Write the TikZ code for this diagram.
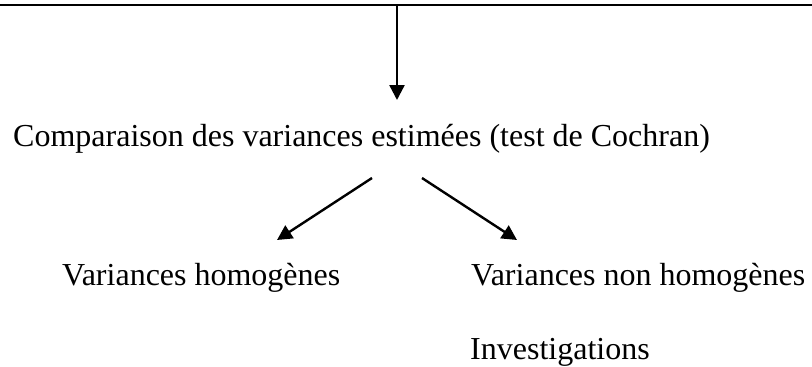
\documentclass[tikz,border=0pt]{standalone}
\usepackage{fontspec}
\setmainfont{Liberation Serif}
\usetikzlibrary{arrows.meta,positioning}

\begin{document}
\begin{tikzpicture}[
    x=1pt, y=-1pt,
    txt/.style={font=\fontsize{32}{38}\selectfont, inner sep=0pt, anchor=base west},
    line/.style={-{Triangle[length=15pt,width=15pt]}, line width=2.4pt}
  ]
    \useasboundingbox (0,0) rectangle (812,367);

    % top rule and the arrow hanging from it
    \coordinate (ruleL) at (0,5);
    \coordinate (ruleR) at (812,5);
    \coordinate (drop) at (397,5);
    \coordinate (dropEnd) at (397,100);
    \draw[line width=2.4pt] (ruleL) -- (ruleR);
    \draw[line] (drop) -- (dropEnd);

    \node[txt] (cochran) at (13,146) {Comparaison des variances estimées (test de Cochran)};
    \node[txt] (homo) at (62,285) {Variances homogènes};
    \node[txt] (nonhomo) at (471,285) {Variances non homogènes};
    \node[txt] (invest) at (470,359) {Investigations};

    \coordinate (splitL) at (372,178);
    \coordinate (splitR) at (422,178);
    \coordinate (homoTop) at (277,240);
    \coordinate (nonhomoTop) at (517,240);
    \draw[line] (splitL) -- (homoTop);
    \draw[line] (splitR) -- (nonhomoTop);
\end{tikzpicture}
\end{document}
